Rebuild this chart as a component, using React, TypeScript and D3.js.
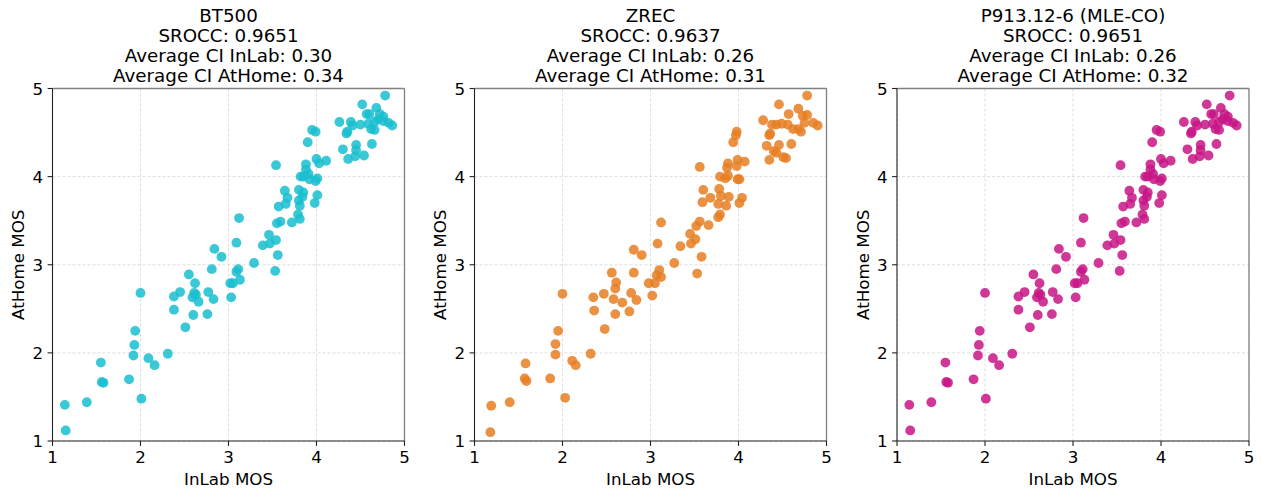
import React from 'react';
import * as d3 from 'd3';

const W = 1261;
const H = 489;

const ticks = [1, 2, 3, 4, 5];

const bt500Titles = ['BT500', 'SROCC: 0.9651', 'Average CI InLab: 0.30', 'Average CI AtHome: 0.34'];
const zrecTitles = ['ZREC', 'SROCC: 0.9637', 'Average CI InLab: 0.26', 'Average CI AtHome: 0.31'];
const p913Titles = ['P913.12-6 (MLE-CO)', 'SROCC: 0.9651', 'Average CI InLab: 0.26', 'Average CI AtHome: 0.32'];

const colors = ['#17becf', '#e67e22', '#c71585'];

// BT500 (and P913) : [InLab, AtHome]
const bt500Points: [number, number][] = [
  [4.78, 4.92], [4.52, 4.82], [4.68, 4.78], [4.57, 4.71], [4.60, 4.71], [4.72, 4.71], [4.76, 4.68], [4.70, 4.65],
  [4.26, 4.62], [4.39, 4.62], [4.50, 4.59], [4.59, 4.60], [4.66, 4.62], [4.76, 4.63], [4.82, 4.61], [4.86, 4.58],
  [4.41, 4.58], [4.35, 4.51], [4.34, 4.49], [4.62, 4.54], [4.66, 4.53], [3.95, 4.53], [3.99, 4.51], [3.90, 4.39],
  [4.30, 4.31], [4.36, 4.20], [4.45, 4.36], [4.45, 4.30], [4.44, 4.23], [4.54, 4.24], [4.63, 4.37], [3.54, 4.13],
  [4.00, 4.20], [4.03, 4.15], [4.11, 4.18], [3.88, 4.14], [3.88, 4.08], [3.85, 4.00], [3.82, 4.00], [3.91, 4.03],
  [3.92, 3.97], [3.99, 3.95], [4.01, 3.98], [4.01, 3.79], [3.98, 3.70], [3.64, 3.84], [3.67, 3.76], [3.80, 3.85],
  [3.85, 3.82], [3.84, 3.77], [3.80, 3.73], [3.81, 3.67], [3.57, 3.66], [3.65, 3.69], [3.79, 3.57], [3.81, 3.52],
  [3.72, 3.48], [3.59, 3.49], [3.55, 3.47], [3.12, 3.53], [3.46, 3.34], [3.54, 3.28], [3.39, 3.22], [3.47, 3.24],
  [3.09, 3.25], [3.56, 3.11],
  [2.84, 3.18], [2.92, 3.09], [2.81, 2.95], [2.55, 2.89], [2.62, 2.79], [2.45, 2.69], [2.38, 2.64], [2.61, 2.68],
  [2.63, 2.66], [2.59, 2.63], [2.66, 2.58], [2.77, 2.69], [2.83, 2.61], [2.38, 2.49], [2.60, 2.43], [2.76, 2.44],
  [2.51, 2.29], [2.00, 2.68], [1.94, 2.25], [1.93, 2.09], [1.92, 1.97], [2.09, 1.94], [2.16, 1.86], [2.31, 1.99],
  [1.55, 1.89], [1.56, 1.67], [1.58, 1.66], [1.87, 1.70], [2.01, 1.48], [1.39, 1.44], [1.14, 1.41], [1.15, 1.12],
  [3.29, 3.02], [3.53, 2.93], [3.11, 2.95], [3.09, 2.92], [3.13, 2.83], [3.05, 2.79], [3.02, 2.79], [3.03, 2.63],
];

const zrecPoints: [number, number][] = [
  [4.78, 4.92], [4.46, 4.82], [4.68, 4.77], [4.57, 4.71], [4.73, 4.69], [4.78, 4.70], [4.28, 4.64], [4.38, 4.59],
  [4.43, 4.59], [4.49, 4.60], [4.56, 4.59], [4.62, 4.54], [4.68, 4.54], [4.71, 4.51], [4.75, 4.61], [4.85, 4.61],
  [4.90, 4.58], [4.36, 4.49], [4.35, 4.47], [3.98, 4.51], [3.97, 4.47], [3.94, 4.39], [4.32, 4.35], [4.46, 4.36],
  [4.40, 4.29], [4.43, 4.27], [4.60, 4.37], [4.35, 4.19], [4.51, 4.22], [4.54, 4.21], [3.56, 4.11], [3.99, 4.19],
  [4.07, 4.17], [3.88, 4.15], [3.87, 4.10], [3.98, 4.12], [3.79, 4.00], [3.85, 3.98], [3.88, 4.01], [3.99, 3.97],
  [4.01, 3.97], [3.60, 3.85], [3.78, 3.86], [3.68, 3.76], [3.80, 3.78], [3.89, 3.77], [4.04, 3.76], [4.01, 3.70],
  [3.59, 3.71], [3.77, 3.69], [3.86, 3.67], [3.79, 3.57], [3.77, 3.54], [3.66, 3.45], [3.56, 3.49], [3.52, 3.44],
  [3.12, 3.48], [3.45, 3.35], [3.51, 3.29], [3.46, 3.24], [3.34, 3.21], [3.08, 3.24], [3.58, 3.09],
  [2.81, 3.17], [2.90, 3.11], [2.56, 2.91], [2.81, 2.91], [2.61, 2.80], [2.60, 2.73], [2.35, 2.63], [2.47, 2.67],
  [2.58, 2.61], [2.68, 2.57], [2.78, 2.68], [2.84, 2.60], [2.36, 2.48], [2.60, 2.44], [2.76, 2.47], [2.48, 2.27],
  [2.00, 2.67], [1.95, 2.25], [1.92, 2.10], [1.92, 1.98], [2.11, 1.91], [2.15, 1.86], [2.32, 1.99], [1.58, 1.88],
  [1.57, 1.71], [1.59, 1.68], [1.86, 1.71], [2.03, 1.49], [1.40, 1.44], [1.19, 1.40], [1.18, 1.10],
  [3.27, 3.02], [3.53, 2.90], [3.10, 2.94], [3.07, 2.88], [3.12, 2.86], [2.98, 2.79], [3.05, 2.79], [3.02, 2.65],
];

const p913Points: [number, number][] = bt500Points.map((p) => [p[0], p[1]] as [number, number]);

const panels = [
  { titles: bt500Titles, points: bt500Points, color: colors[0] },
  { titles: zrecTitles, points: zrecPoints, color: colors[1] },
  { titles: p913Titles, points: p913Points, color: colors[2] },
];

const FONT = '"DejaVu Sans", sans-serif';
const plotTop = 88.5;
const plotH = 352.5;
const plotW = 352;
const lefts = [52.5, 474.5, 897];

function Panel({ left, titles, points, color }: { left: number; titles: string[]; points: [number, number][]; color: string }) {
  const x = d3.scaleLinear().domain([1, 5]).range([left, left + plotW]);
  const y = d3.scaleLinear().domain([1, 5]).range([plotTop + plotH, plotTop]);
  const cx = left + plotW / 2;
  return (
    <g>
      {titles.map((t, i) => (
        <text key={i} x={cx} y={21.5 + i * 20} textAnchor="middle" fontSize={18.3} fontFamily={FONT} fill="#000">
          {t}
        </text>
      ))}
      {ticks.map((t) => (
        <g key={'g' + t}>
          <line x1={x(t)} x2={x(t)} y1={plotTop} y2={plotTop + plotH} stroke="#b0b0b0" strokeOpacity={0.5} strokeWidth={0.8} strokeDasharray="3,2" />
          <line x1={left} x2={left + plotW} y1={y(t)} y2={y(t)} stroke="#b0b0b0" strokeOpacity={0.5} strokeWidth={0.8} strokeDasharray="3,2" />
        </g>
      ))}
      {points.map((p, i) => (
        <circle key={i} cx={x(p[0])} cy={y(p[1])} r={4.9} fill={color} fillOpacity={0.85} />
      ))}
      <line x1={left} x2={left + plotW} y1={plotTop} y2={plotTop} stroke="#808080" strokeWidth={1.3} />
      <line x1={left + plotW} x2={left + plotW} y1={plotTop} y2={plotTop + plotH} stroke="#808080" strokeWidth={1.3} />
      <line x1={left} x2={left} y1={plotTop} y2={plotTop + plotH} stroke="#222" strokeWidth={1.1} />
      <line x1={left} x2={left + plotW} y1={plotTop + plotH} y2={plotTop + plotH} stroke="#222" strokeWidth={1.1} />
      {ticks.map((t) => (
        <g key={'t' + t}>
          <line x1={x(t)} x2={x(t)} y1={plotTop + plotH} y2={plotTop + plotH + 4.9} stroke="#222" strokeWidth={1.1} />
          <text x={x(t)} y={plotTop + plotH + 22} textAnchor="middle" fontSize={16.7} fontFamily={FONT} fill="#000">
            {t}
          </text>
          <line x1={left - 4.9} x2={left} y1={y(t)} y2={y(t)} stroke="#222" strokeWidth={1.1} />
          <text x={left - 9.5} y={y(t) + 6} textAnchor="end" fontSize={16.7} fontFamily={FONT} fill="#000">
            {t}
          </text>
        </g>
      ))}
      <text x={cx} y={plotTop + plotH + 43.5} textAnchor="middle" fontSize={16.7} fontFamily={FONT} fill="#000">
        InLab MOS
      </text>
      <text
        transform={`translate(${left - 28.5},${plotTop + plotH / 2}) rotate(-90)`}
        textAnchor="middle"
        fontSize={16.7}
        fontFamily={FONT}
        fill="#000"
      >
        AtHome MOS
      </text>
    </g>
  );
}

export default function App() {
  return (
    <svg width={W} height={H} style={{ position: 'absolute', left: 0, top: 0, background: '#fff' }}>
      <rect x={0} y={0} width={W} height={H} fill="#fff" />
      {panels.map((p, i) => (
        <Panel key={i} left={lefts[i]} titles={p.titles} points={p.points} color={p.color} />
      ))}
    </svg>
  );
}
